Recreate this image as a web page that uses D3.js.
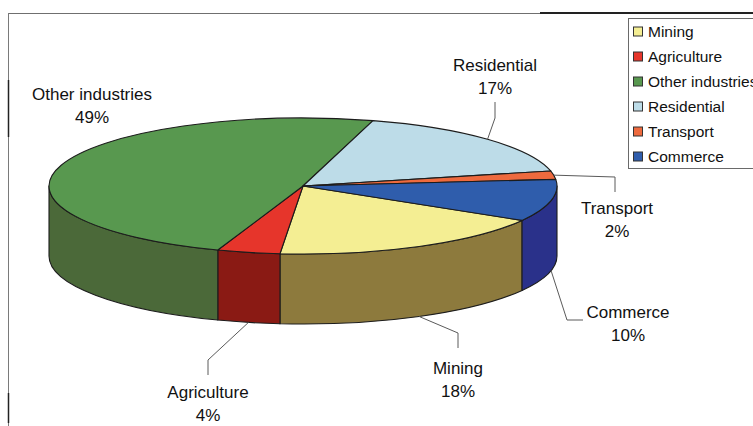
<!DOCTYPE html>
<html>
<head>
<meta charset="utf-8">
<script src="https://cdn.jsdelivr.net/npm/d3@7/dist/d3.min.js"></script>
<style>
  html, body { margin: 0; padding: 0; background: #ffffff; }
  svg { display: block; font-family: "Liberation Sans", Arial, sans-serif; }
</style>
</head>
<body>
<svg id="chart" width="753" height="426"></svg>
<script>
// Energy use by sector, shares in percent (legend order)
const categories = ["Mining", "Agriculture", "Other industries", "Residential", "Transport", "Commerce"];
const shares = [18, 4, 49, 17, 2, 10];
// Order in which the slices run clockwise round the pie
const sliceOrder = ["Residential", "Transport", "Commerce", "Mining", "Agriculture", "Other industries"];
const topColors = ["#f4ee93", "#e6352b", "#58984f", "#bddce8", "#ee6a3e", "#2f5dac"];
const sideColors = ["#8d7a3d", "#8a1a14", "#4b6939", "#7d9ba6", "#9a3d20", "#2a318a"];

// Label placement (text centre and leader elbow points)
const labelLayout = {
  "Other industries": { x: 92, y: 94, leader: null },
  "Residential": { x: 495, y: 65, leader: [[495, 118], [495, 102]] },
  "Transport": { x: 617, y: 208, leader: [[615, 177], [615, 192]] },
  "Commerce": { x: 628, y: 312, leader: [[567, 320], [583, 320]] },
  "Mining": { x: 458, y: 368, leader: [[458, 333], [458, 348]] },
  "Agriculture": { x: 208, y: 392, leader: [[208, 360], [208, 375]] }
};

const svg = d3.select("#chart");

// Frame lines
svg.append("line").attr("x1", 8).attr("y1", 13.5).attr("x2", 753).attr("y2", 13.5)
  .attr("stroke", "#6f6f6f").attr("stroke-width", 1.2);
svg.append("line").attr("x1", 540).attr("y1", 13).attr("x2", 753).attr("y2", 13)
  .attr("stroke", "#222").attr("stroke-width", 2);
svg.append("line").attr("x1", 8.5).attr("y1", 13).attr("x2", 8.5).attr("y2", 426)
  .attr("stroke", "#7a7a7a").attr("stroke-width", 1);
[[80, 137], [393, 423]].forEach(([a, b]) => {
  svg.append("line").attr("x1", 8.5).attr("y1", a).attr("x2", 8.5).attr("y2", b)
    .attr("stroke", "#222").attr("stroke-width", 1.5);
});

// 3D pie geometry
const cx = 303, cy = 186, rx = 254, ry = 68, depth = 70;
const deg = Math.PI / 180;
const start = 16 * deg;

const data = categories.map((c, i) => ({ name: c, value: shares[i], idx: i }));
const pie = d3.pie()
  .value(d => d.value)
  .sort((a, b) => sliceOrder.indexOf(a.name) - sliceOrder.indexOf(b.name))
  .startAngle(start)
  .endAngle(start + 2 * Math.PI);
const arcs = pie(data);

const topColor = d3.scaleOrdinal().domain(categories).range(topColors);
const sideColor = d3.scaleOrdinal().domain(categories).range(sideColors);

// Point on the rim at pie angle a (0 = top, clockwise), shifted down by dy
const P = (a, dy = 0) => [cx + rx * Math.sin(a), cy - ry * Math.cos(a) + dy];

function topPath(a0, a1) {
  const p0 = P(a0), p1 = P(a1);
  const large = (a1 - a0) > Math.PI ? 1 : 0;
  return `M${cx},${cy}L${p0[0]},${p0[1]}A${rx},${ry} 0 ${large} 1 ${p1[0]},${p1[1]}Z`;
}
function sidePath(a0, a1) {
  const p0 = P(a0), p1 = P(a1), q1 = P(a1, depth), q0 = P(a0, depth);
  return `M${p0[0]},${p0[1]}A${rx},${ry} 0 0 1 ${p1[0]},${p1[1]}` +
         `L${q1[0]},${q1[1]}A${rx},${ry} 0 0 0 ${q0[0]},${q0[1]}Z`;
}

const stroke = "#1c1c1c";
const pieG = svg.append("g");

// Front walls (visible rim between 90° and 270°)
const frontLo = 90 * deg, frontHi = 270 * deg;
arcs.forEach(d => {
  const s = Math.max(d.startAngle, frontLo), e = Math.min(d.endAngle, frontHi);
  if (e > s) {
    pieG.append("path").attr("d", sidePath(s, e))
      .attr("fill", sideColor(d.data.name))
      .attr("stroke", stroke).attr("stroke-width", 1.1).attr("stroke-linejoin", "round");
  }
});

// Top faces
arcs.forEach(d => {
  pieG.append("path").attr("d", topPath(d.startAngle, d.endAngle))
    .attr("fill", topColor(d.data.name))
    .attr("stroke", stroke).attr("stroke-width", 1.1).attr("stroke-linejoin", "round");
});

// Labels and leader lines
const labG = svg.append("g").attr("font-size", 17).attr("fill", "#111").attr("text-anchor", "middle");
arcs.forEach(d => {
  const name = d.data.name;
  const lay = labelLayout[name];
  const mid = (d.startAngle + d.endAngle) / 2;
  const m = ((mid % (2 * Math.PI)) + 2 * Math.PI) % (2 * Math.PI);
  const onFront = m > frontLo && m < frontHi;
  if (lay.leader) {
    const anchor = P(mid, onFront ? depth : 0);
    const pts = [anchor, ...lay.leader];
    labG.append("path").attr("d", d3.line()(pts))
      .attr("fill", "none").attr("stroke", "#5a5a5a").attr("stroke-width", 1);
  }
  labG.append("text").attr("x", lay.x).attr("y", lay.y).attr("dy", "0.35em").text(name);
  labG.append("text").attr("x", lay.x).attr("y", lay.y + 23).attr("dy", "0.35em").text(`${d.data.value}%`);
});

// Legend
const legG = svg.append("g");
legG.append("rect").attr("x", 628.5).attr("y", 18.5).attr("width", 140).attr("height", 150)
  .attr("fill", "#fff").attr("stroke", "#6a6a6a").attr("stroke-width", 1);
categories.forEach((c, i) => {
  const y = 32 + i * 25;
  legG.append("rect").attr("x", 633.5).attr("y", y - 5).attr("width", 9).attr("height", 9)
    .attr("fill", topColor(c)).attr("stroke", "#333").attr("stroke-width", 1);
  legG.append("text").attr("x", 648).attr("y", y).attr("dy", "0.35em")
    .attr("font-size", 15.5).attr("fill", "#111").text(c);
});
</script>
</body>
</html>
